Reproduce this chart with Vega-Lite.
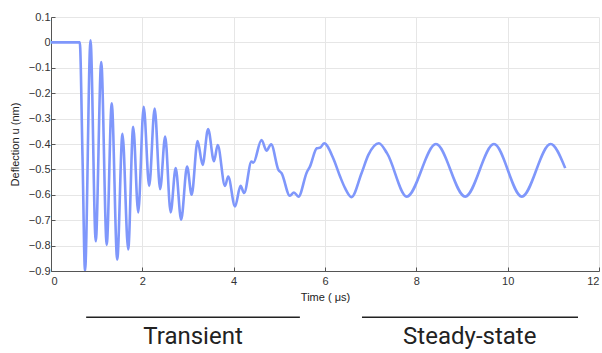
{
  "$schema": "https://vega.github.io/schema/vega-lite/v6.json",
  "width": 548,
  "height": 254,
  "autosize": {"type": "none"},
  "padding": {"left": 51, "top": 17, "right": 3, "bottom": 82},
  "background": "white",
  "config": {
    "view": {"stroke": null},
    "font": "Liberation Sans",
    "axis": {
      "labelOverlap": false, "labelBound": false,
      "grid": true, "gridColor": "#e6e6e6", "domainColor": "#555", "tickColor": "#555",
      "tickSize": -4, "labelColor": "#333", "labelFontSize": 11,
      "titleFontSize": 11, "titleFontWeight": "normal", "titleColor": "#222"
    }
  },
  "datasets": {
    "signal": [
      {"t": 0, "v": 0}, {"t": 0.63, "v": 0}, {"t": 0.69, "v": -0.45}, {"t": 0.745, "v": -0.9},
      {"t": 0.865, "v": 0.008}, {"t": 0.98, "v": -0.783}, {"t": 1.1, "v": -0.077}, {"t": 1.22, "v": -0.797},
      {"t": 1.33, "v": -0.24}, {"t": 1.45, "v": -0.855}, {"t": 1.565, "v": -0.36}, {"t": 1.69, "v": -0.815},
      {"t": 1.8, "v": -0.332}, {"t": 1.91, "v": -0.669}, {"t": 2.03, "v": -0.254}, {"t": 2.15, "v": -0.565},
      {"t": 2.27, "v": -0.26}, {"t": 2.39, "v": -0.578}, {"t": 2.5, "v": -0.371}, {"t": 2.62, "v": -0.669},
      {"t": 2.73, "v": -0.495}, {"t": 2.85, "v": -0.698}, {"t": 2.98, "v": -0.489}, {"t": 3.08, "v": -0.6},
      {"t": 3.21, "v": -0.388}, {"t": 3.32, "v": -0.482}, {"t": 3.44, "v": -0.341}, {"t": 3.57, "v": -0.468},
      {"t": 3.65, "v": -0.404}, {"t": 3.81, "v": -0.565}, {"t": 3.88, "v": -0.528}, {"t": 4.03, "v": -0.646},
      {"t": 4.15, "v": -0.565}, {"t": 4.23, "v": -0.593}, {"t": 4.39, "v": -0.469}, {"t": 4.43, "v": -0.474},
      {"t": 4.61, "v": -0.384}, {"t": 4.72, "v": -0.426}, {"t": 4.82, "v": -0.401}, {"t": 4.98, "v": -0.502},
      {"t": 5.05, "v": -0.515}, {"t": 5.23, "v": -0.604}, {"t": 5.32, "v": -0.591}, {"t": 5.42, "v": -0.607},
      {"t": 5.6, "v": -0.512}, {"t": 5.67, "v": -0.489}, {"t": 5.82, "v": -0.417}, {"t": 5.9, "v": -0.414},
      {"t": 5.98, "v": -0.397}, {"t": 6.18, "v": -0.456}, {"t": 6.33, "v": -0.528}, {"t": 6.44, "v": -0.574},
      {"t": 6.58, "v": -0.609}, {"t": 6.8, "v": -0.515}, {"t": 6.95, "v": -0.443}, {"t": 7.18, "v": -0.397},
      {"t": 7.36, "v": -0.437}, {"t": 7.79, "v": -0.607}, {"t": 8.43, "v": -0.4}, {"t": 9.07, "v": -0.607},
      {"t": 9.7, "v": -0.4}, {"t": 10.31, "v": -0.607}, {"t": 10.94, "v": -0.4}, {"t": 11.26, "v": -0.495}
    ],
    "spans": [
      {"label": "Transient", "start": 0.77, "end": 5.45, "mid": 3.11},
      {"label": "Steady-state", "start": 6.81, "end": 11.54, "mid": 9.17}
    ]
  },
  "layer": [
    {
      "data": {"name": "signal"},
      "mark": {"type": "line", "interpolate": "monotone", "color": "#7f97fb", "strokeWidth": 2.6, "clip": true},
      "encoding": {
        "x": {
          "field": "t", "type": "quantitative",
          "scale": {"domain": [0, 12], "nice": false, "zero": false},
          "axis": {
            "tickCount": 6, "title": "Time ( μs)", "labelOverlap": false,
            "labelFlush": true, "labelPadding": 8, "titlePadding": 5
          }
        },
        "y": {
          "field": "v", "type": "quantitative",
          "scale": {"domain": [-0.9, 0.1], "nice": false, "zero": false},
          "axis": {
            "tickCount": 11, "labelOverlap": false, "format": ".1~f",
            "title": "Deflection u (nm)", "labelPadding": 5, "titlePadding": 8
          }
        }
      }
    },
    {
      "data": {"name": "spans"},
      "mark": {"type": "rule", "color": "#222", "strokeWidth": 1.5, "clip": false},
      "encoding": {
        "x": {"field": "start", "type": "quantitative"},
        "x2": {"field": "end"},
        "y": {"datum": -1.082, "type": "quantitative"}
      }
    },
    {
      "data": {"name": "spans"},
      "mark": {"type": "text", "font": "Roboto", "fontSize": 24, "color": "#222", "baseline": "middle", "align": "center", "clip": false},
      "encoding": {
        "x": {"field": "mid", "type": "quantitative"},
        "y": {"datum": -1.161, "type": "quantitative"},
        "text": {"field": "label"}
      }
    }
  ]
}
